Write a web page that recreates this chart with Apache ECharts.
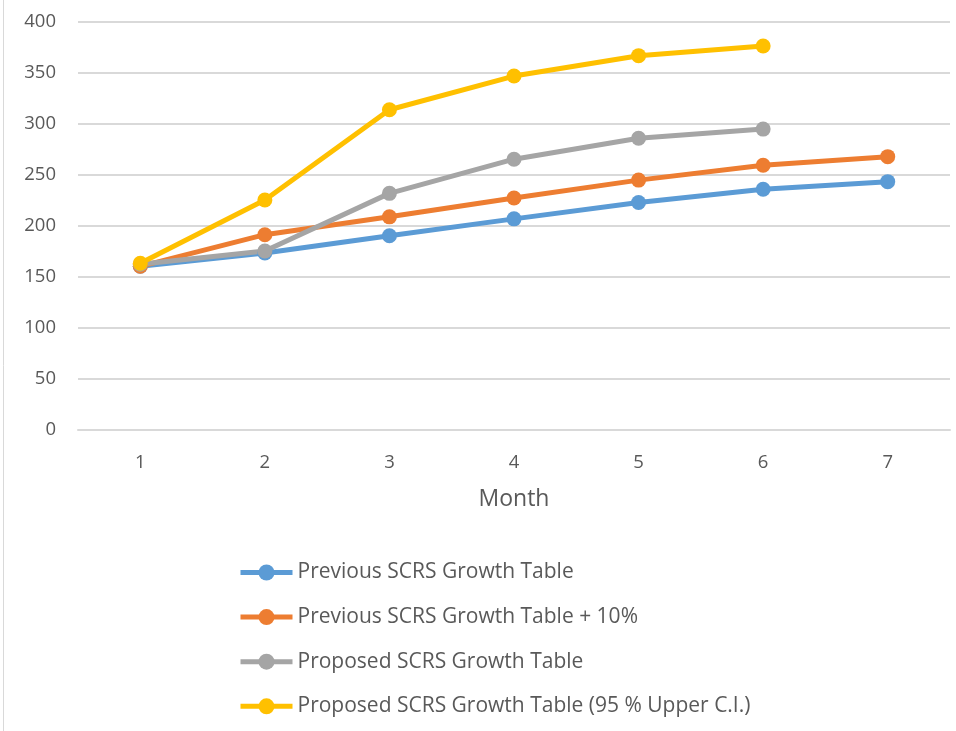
<!DOCTYPE html>
<html>
<head>
<meta charset="utf-8">
<script src="https://cdn.jsdelivr.net/npm/echarts@6/dist/echarts.min.js"></script>
<style>
  html, body { margin: 0; padding: 0; background: #ffffff; }
  #chart { width: 956px; height: 731px; }
</style>
</head>
<body>
<div id="chart"></div>
<script>
// Months on the x axis
const months = ['1', '2', '3', '4', '5', '6', '7'];

// Growth table values per month
const previousTable = [160, 173, 190, 206.5, 222.5, 235.5, 243];
const previousPlus10 = [160, 191, 208.5, 227, 244.5, 259, 267.5];
const proposedTable = [162, 175, 231.5, 265, 285.5, 294.5];
const proposedUpperCI = [163, 225, 313.5, 346.5, 366.5, 376];

const seriesNames = [
  'Previous SCRS Growth Table',
  'Previous SCRS Growth Table + 10%',
  'Proposed SCRS Growth Table',
  'Proposed SCRS Growth Table (95 % Upper C.I.)'
];
const seriesColors = ['#5b9bd5', '#ed7d31', '#a5a5a5', '#ffc000'];
const seriesData = [previousTable, previousPlus10, proposedTable, proposedUpperCI];

const fontFamily = '"Open Sans", Lato, sans-serif';
const textColor = '#595959';

const chart = echarts.init(document.getElementById('chart'), null, { renderer: 'canvas' });

chart.setOption({
  animation: false,
  backgroundColor: '#ffffff',
  textStyle: { fontFamily: fontFamily },
  graphic: [{
    type: 'line',
    shape: { x1: 3.5, y1: 0, x2: 3.5, y2: 731 },
    style: { stroke: '#d9d9d9', lineWidth: 1 }
  }],
  grid: { left: 78, right: 6, top: 21.5, bottom: 301.5 },
  legend: {
    orient: 'vertical',
    left: 238,
    top: 562,
    height: 180,
    padding: 0,
    itemWidth: 52,
    itemHeight: 20,
    itemGap: 23.6,
    lineStyle: { width: 5 },
    textStyle: { color: textColor, fontSize: 21, fontFamily: fontFamily },
    data: seriesNames
  },
  xAxis: {
    type: 'category',
    data: months,
    boundaryGap: true,
    name: 'Month',
    nameLocation: 'middle',
    nameGap: 58,
    nameTextStyle: { color: textColor, fontSize: 23, fontFamily: fontFamily },
    axisLine: { show: true, lineStyle: { color: '#d9d9d9', width: 2 } },
    axisTick: { show: false },
    axisLabel: { color: textColor, fontSize: 18.5, margin: 24, fontFamily: fontFamily }
  },
  yAxis: {
    type: 'value',
    min: 0,
    max: 400,
    interval: 50,
    axisLine: { show: false },
    axisTick: { show: false },
    axisLabel: { color: textColor, fontSize: 18.5, margin: 22, fontFamily: fontFamily },
    splitLine: { lineStyle: { color: '#d9d9d9', width: 2 } }
  },
  series: seriesNames.map((name, i) => ({
    name: name,
    type: 'line',
    data: seriesData[i],
    symbol: 'circle',
    symbolSize: 15,
    color: seriesColors[i],
    lineStyle: { width: 5, color: seriesColors[i] },
    itemStyle: { color: seriesColors[i] }
  }))
});
</script>
</body>
</html>
